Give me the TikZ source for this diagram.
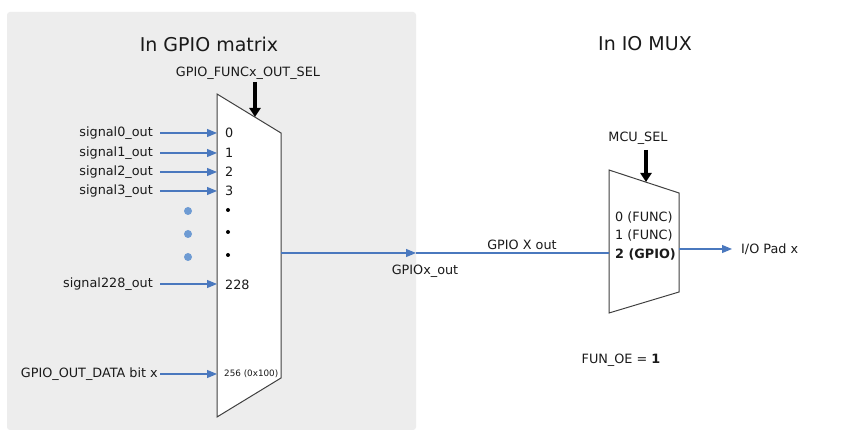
\documentclass[tikz,border=0pt]{standalone}
\usepackage{fontspec}
\setmainfont{DejaVu Sans}
\usetikzlibrary{arrows.meta}
\definecolor{panelgray}{HTML}{EDEDED}
\definecolor{sigblue}{HTML}{4A78BE}
\definecolor{dotblue}{HTML}{6E9BD3}
\definecolor{txt}{HTML}{1A1A1A}
\tikzset{
  sig/.style={draw=sigblue, line width=1.1pt, -{Triangle[length=10pt,width=8pt]}},
  sigline/.style={draw=sigblue, line width=1.1pt},
  selarrow/.style={draw=black, line width=3.5pt, -{Triangle[length=9pt,width=11pt]}},
  muxshape/.style={draw=black!75, line width=1pt, fill=white},
  lbl/.style={font=\fontsize{12.8}{15}\selectfont, text=txt, inner sep=0pt},
  ttl/.style={font=\fontsize{19}{23}\selectfont, text=txt, inner sep=0pt},
  bdot/.style={circle, fill=dotblue, minimum size=8pt, inner sep=0pt},
  kdot/.style={circle, fill=black, minimum size=4pt, inner sep=0pt},
}
\begin{document}
\begin{tikzpicture}[x=1pt,y=-1pt]
\useasboundingbox (0,0) rectangle (847,435);
\fill[white] (0,0) rectangle (847,435);
\fill[panelgray, rounded corners=3pt] (7,12) rectangle (416,430);

% titles
\node[ttl] (t1) at (209,44) {In GPIO matrix};
\node[ttl] (t2) at (645,44) {In IO MUX};

% mux 1
\draw[muxshape] (217,94) -- (281,133) -- (281,378) -- (217,417) -- cycle;
\coordinate (m1top) at (255,117);
\coordinate (m1out) at (281,253);
\node[lbl] (sel1) at (248,73) {GPIO\_FUNCx\_OUT\_SEL};
\draw[selarrow] (255,82) -- (m1top);

% inputs
\foreach \n/\y/\t in {s0/133/signal0\_out, s1/153/signal1\_out, s2/172/signal2\_out, s3/191/signal3\_out, s228/284/signal228\_out}{
  \node[lbl, anchor=east] (\n) at (153,\y) {\t};
  \coordinate (\n in) at (217,\y);
  \draw[sig] (160,\y) -- (\n in);
}
\node[lbl, anchor=east] (sd) at (158,374) {GPIO\_OUT\_DATA bit x};
\coordinate (sdin) at (217,374);
\draw[sig] (sd.east) ++(2,0) -- (sdin);

% input numbers
\node[lbl, anchor=west] (n0) at (225,133) {0};
\node[lbl, anchor=west] (n1) at (225,153) {1};
\node[lbl, anchor=west] (n2) at (225,172) {2};
\node[lbl, anchor=west] (n3) at (225,191) {3};
\node[lbl, anchor=west] (n228) at (225,285) {228};
\node[lbl, anchor=west, font=\fontsize{8.8}{10}\selectfont] (n256) at (224,374) {256 (0x100)};
\node[kdot] (k1) at (228,210) {};
\node[kdot] (k2) at (228,232) {};
\node[kdot] (k3) at (228,255) {};
\node[bdot] (b1) at (188,211) {};
\node[bdot] (b2) at (188,234) {};
\node[bdot] (b3) at (188,257) {};

% mux 2
\draw[muxshape] (609,170) -- (679,193) -- (679,292) -- (609,313) -- cycle;
\coordinate (m2top) at (646,182);
\coordinate (m2in) at (609,253);
\coordinate (m2out) at (679,249);
\node[lbl] (sel2) at (638,138) {MCU\_SEL};
\draw[selarrow] (646,150) -- (m2top);
\node[lbl, anchor=west] (f0) at (615,217) {0 (FUNC)};
\node[lbl, anchor=west] (f1) at (615,235) {1 (FUNC)};
\node[lbl, anchor=west, font=\fontsize{12.8}{15}\selectfont\bfseries] (f2) at (615,254) {2 (GPIO)};

% connection
\coordinate (gx) at (416,253);
\draw[sig] (m1out) -- (gx);
\draw[sigline] (gx) -- (m2in);
\node[lbl] (gxo) at (425,271) {GPIOx\_out};
\node[lbl] (gxl) at (522,245) {GPIO X out};

\node[lbl, anchor=west] (pad) at (741,249) {I/O Pad x};
\draw[sig] (m2out) -- (pad.west -| 732,0) ;
\node[lbl] (oe) at (621,360) {FUN\_OE = \textbf{1}};
\end{tikzpicture}
\end{document}
